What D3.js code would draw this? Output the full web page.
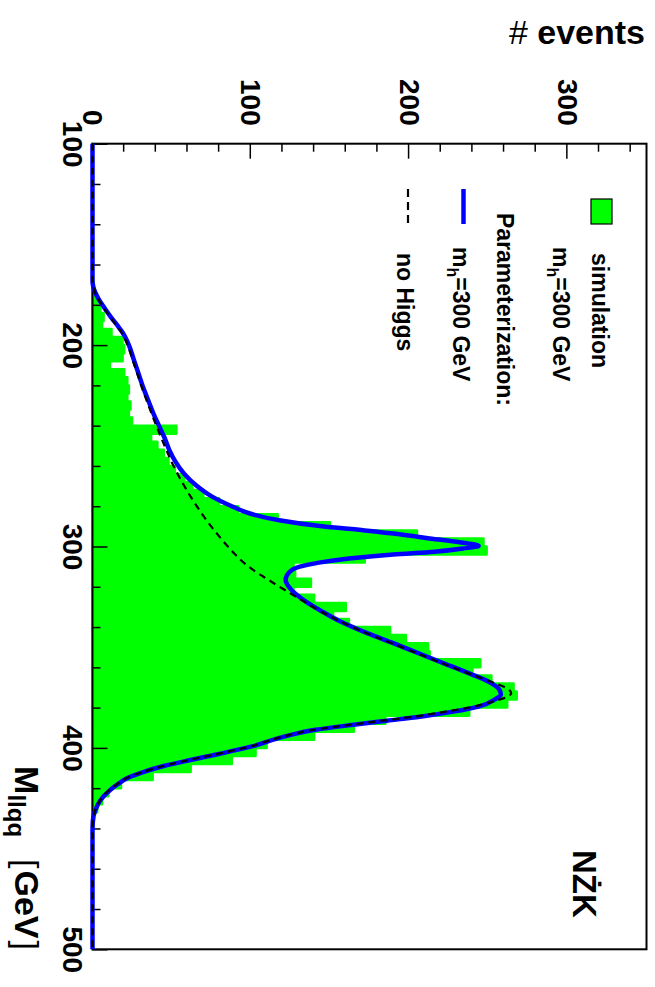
<!DOCTYPE html>
<html>
<head>
<meta charset="utf-8">
<script src="https://cdn.jsdelivr.net/npm/d3@7"></script>
<style>
  body { margin: 0; background: #fff; }
  svg { display: block; font-family: "Liberation Sans", Arial, Helvetica, sans-serif; }
</style>
</head>
<body>
<svg id="chart" width="655" height="987"></svg>
<script>
// simulated M_llqq histogram, 4 GeV bins starting at 100 GeV
const binStart = 100;
const binWidth = 4;
const simCounts = [
  0, 0, 0, 0, 0, 0, 0, 0, 0, 0, 0, 0, 0, 0, 0, 0, 0,
  0.5, 1.5, 3, 5, 7, 6, 12, 19, 20, 19, 11, 20, 22, 23, 22, 24, 23, 25,
  53, 37, 41, 45, 48, 52, 58, 63, 70, 80, 92, 117, 150, 205, 247, 249,
  172, 127, 128, 138, 127, 140, 160, 152, 162, 188, 198, 212, 213, 245, 240, 252, 266,
  268, 262, 238, 185, 165, 140, 110, 103, 88, 62, 38, 18, 10, 6, 3, 1, 0.5,
  0, 0, 0, 0, 0, 0, 0, 0, 0, 0, 0, 0, 0, 0, 0
];

// parameterization with m_h = 300 GeV  [mass, events]
const higgsCurve = [
  [100, 0], [160, 0], [168, 0], [171, 0.5], [174, 1.8], [177, 3.8], [180, 6.2], [183, 8.8],
  [186, 11.5], [190, 15.5], [194, 19.2], [200, 23], [207, 26], [214, 29], [221, 32],
  [228, 35.5], [234, 38.5], [240, 42], [246, 45.5], [252, 48.5], [258, 52.5], [264, 58],
  [270, 66], [275, 75], [280, 88], [284, 101], [287, 118], [290, 145], [292, 172],
  [294, 195], [296, 213], [298, 233], [299.7, 244], [301, 234], [302.6, 216], [304, 190],
  [306, 162], [308, 143], [310, 131], [313, 124], [316.5, 122], [320, 124], [324, 129],
  [328, 136], [332, 144.5], [337, 156], [343, 173.5], [348, 190], [353, 206], [358, 222],
  [363, 238], [367, 250], [371, 257], [373.5, 258], [376, 254], [379.5, 244], [382, 228],
  [384.5, 207], [386.5, 186], [388.5, 165], [391, 141], [394.4, 121], [399.4, 100],
  [403, 80], [406, 62], [409, 45], [412, 32], [415, 22], [418, 16], [421, 11], [426, 5],
  [430, 2.3], [434, 0.6], [438, 0.1], [442, 0], [500, 0]
];

// parameterization without Higgs  [mass, events]
const noHiggsCurve = [
  [100, 0], [160, 0], [168, 0], [171, 0.5], [174, 1.7], [177, 3.6], [180, 5.9], [183, 8.4],
  [186, 11], [190, 14.8], [194, 18.5], [200, 22.2], [207, 25.2], [214, 28.2], [221, 31.2],
  [228, 34.4], [234, 37.3], [240, 40.3], [246, 43.4], [252, 46.6], [258, 50], [264, 53.8],
  [270, 58], [276, 62.6], [282, 67.6], [288, 73], [294, 79], [300, 85.5], [305, 91.5],
  [309, 97], [312.5, 103], [316, 110], [321.6, 121.5], [328, 135], [332, 143.5], [337, 156],
  [343, 173], [348, 189], [353, 205], [358, 221], [363, 237.5], [367.8, 254], [370.5, 262],
  [372.8, 264.5], [375, 261], [377, 253], [379.5, 241], [382, 223], [384.5, 203],
  [386.5, 183], [388.5, 163], [391, 140], [394.4, 120], [399.4, 99], [403, 79], [406, 61],
  [409, 44.5], [412, 31.5], [415, 21.5], [418, 15.5], [421, 10.5], [426, 4.8], [430, 2.2],
  [434, 0.6], [438, 0.1], [442, 0], [500, 0]
];

const massTicks = [100, 200, 300, 400, 500];
const eventTicks = [0, 100, 200, 300];
const massDomain = [100, 500];
const eventDomain = [0, 350];

const GREEN = "#00ff00", BLUE = "#0000ff";

let svg = d3.select("#chart");

// the whole plot is drawn lying on its side: inner coords are rotated 90 deg clockwise
let plot = svg.append("g").attr("transform", "translate(655,0) rotate(90)");

const frame = { left: 143.7, right: 949.3, top: 8.5, bottom: 562.5 };

let x = d3.scaleLinear().domain(massDomain).range([frame.left, frame.right]);
let y = d3.scaleLinear().domain(eventDomain).range([frame.bottom, frame.top]);

// histogram
let bins = simCounts.map((c, i) => ({ m: binStart + i * binWidth, c: c }));
bins.push({ m: binStart + simCounts.length * binWidth, c: 0 });

let histArea = d3.area()
  .x(d => x(d.m))
  .y0(y(0))
  .y1(d => y(d.c))
  .curve(d3.curveStepAfter);

plot.append("path")
  .datum(bins)
  .attr("d", histArea)
  .attr("fill", GREEN)
  .attr("stroke", GREEN)
  .attr("stroke-width", 2.5)
  .attr("stroke-linejoin", "round");

// frame
plot.append("rect")
  .attr("x", frame.left).attr("y", frame.top)
  .attr("width", frame.right - frame.left)
  .attr("height", frame.bottom - frame.top)
  .attr("fill", "none").attr("stroke", "#000").attr("stroke-width", 2);

// axes, ticks pointing inside the frame
const minorMass = d3.range(100, 501, 20).filter(v => massTicks.indexOf(v) < 0);
const minorEvents = d3.range(0, 351, 20).filter(v => v % 100 !== 0);

function styleAxis(g, size) {
  g.select(".domain").remove();
  g.selectAll("line").attr("stroke", "#000").attr("stroke-width", 1.5);
  g.selectAll("text")
    .attr("font-family", '"Liberation Sans", Arial, sans-serif')
    .attr("font-size", size).attr("font-weight", "bold").attr("fill", "#000");
}

plot.append("g")
  .attr("transform", "translate(0," + frame.bottom + ")")
  .call(d3.axisBottom(x).tickValues(minorMass).tickSize(-8).tickFormat(""))
  .call(g => styleAxis(g, 28));

plot.append("g")
  .attr("transform", "translate(0," + frame.bottom + ")")
  .call(d3.axisBottom(x).tickValues(massTicks).tickSize(-15).tickPadding(10).tickFormat(d3.format("d")))
  .call(g => styleAxis(g, 28));

plot.append("g")
  .attr("transform", "translate(" + frame.left + ",0)")
  .call(d3.axisLeft(y).tickValues(minorEvents).tickSize(-8).tickFormat(""))
  .call(g => styleAxis(g, 28));

plot.append("g")
  .attr("transform", "translate(" + frame.left + ",0)")
  .call(d3.axisLeft(y).tickValues(eventTicks).tickSize(-15).tickPadding(18).tickFormat(d3.format("d")))
  .call(g => styleAxis(g, 28));

// curves
let line = d3.line()
  .x(d => x(d[0]))
  .y(d => y(d[1]))
  .curve(d3.curveMonotoneX);

plot.append("path")
  .datum(higgsCurve)
  .attr("d", line)
  .attr("fill", "none").attr("stroke", BLUE).attr("stroke-width", 4.5)
  .attr("stroke-linejoin", "round");

plot.append("path")
  .datum(noHiggsCurve)
  .attr("d", line)
  .attr("fill", "none").attr("stroke", "#000").attr("stroke-width", 2.2)
  .attr("stroke-dasharray", "7,5");

// axis title M_llqq [GeV]
let xTitle = plot.append("text")
  .attr("x", 950).attr("y", 640)
  .attr("text-anchor", "end")
  .attr("font-weight", "bold")
  .attr("font-size", 34);
xTitle.append("tspan").text("M");
xTitle.append("tspan").attr("font-size", 24).attr("dy", 7).text("llqq");
xTitle.append("tspan").attr("dy", -7).attr("dx", 22).attr("font-weight", "normal").text("[");
xTitle.append("tspan").attr("dx", 2).text("GeV");
xTitle.append("tspan").attr("dx", 2).attr("font-weight", "normal").text("]");

// label
plot.append("text")
  .attr("x", 850).attr("y", 82)
  .attr("font-weight", "bold").attr("font-size", 33)
  .text("NŻK");

// legend
let legend = plot.append("g").attr("font-weight", "bold").attr("font-size", 23);

legend.append("rect")
  .attr("x", 199).attr("y", 43).attr("width", 25).attr("height", 21)
  .attr("fill", GREEN).attr("stroke", "#000").attr("stroke-width", 1.2);
legend.append("text").attr("x", 253).attr("y", 63).text("simulation");

function massLabel(u, v) {
  let t = legend.append("text").attr("x", u).attr("y", v);
  t.append("tspan").text("m");
  t.append("tspan").attr("font-size", 16).attr("dy", 6).text("h");
  t.append("tspan").attr("dy", -6).text("=300 GeV");
}
massLabel(247, 102);

legend.append("text").attr("x", 213).attr("y", 158).text("Parameterization:");

legend.append("line")
  .attr("x1", 189).attr("x2", 224).attr("y1", 191.5).attr("y2", 191.5)
  .attr("stroke", BLUE).attr("stroke-width", 4.5);
massLabel(247, 202);

legend.append("line")
  .attr("x1", 189).attr("x2", 224).attr("y1", 247).attr("y2", 247)
  .attr("stroke", "#000").attr("stroke-width", 2.2).attr("stroke-dasharray", "8,5");
legend.append("text").attr("x", 253).attr("y", 258).text("no Higgs");

// y title, horizontal on the page
let yTitle = svg.append("text")
  .attr("x", 645).attr("y", 44)
  .attr("text-anchor", "end")
  .attr("font-size", 34);
yTitle.append("tspan").text("# ");
yTitle.append("tspan").attr("font-weight", "bold").text("events");
</script>
</body>
</html>
